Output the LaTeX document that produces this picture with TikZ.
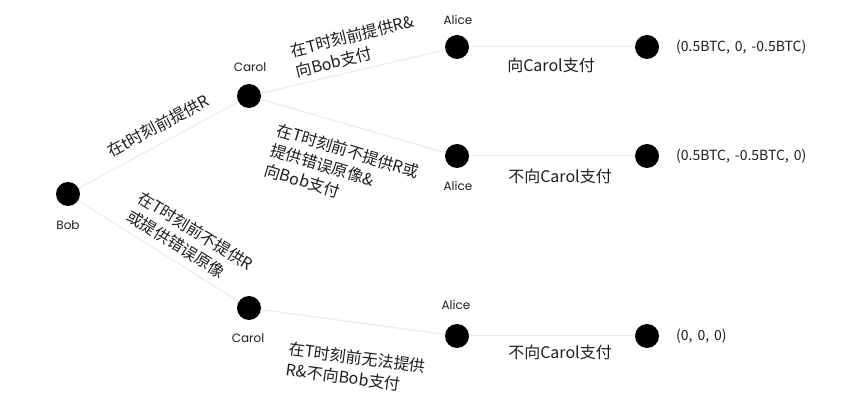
\documentclass[tikz,border=0pt]{standalone}
\usepackage{fontspec}
\setmainfont{Noto Sans CJK SC}
\newfontfamily\namefont{Poppins}
\usepackage{xcolor}
\usepackage{tikz}
\definecolor{bg}{HTML}{FFFFFF}
\definecolor{edge}{HTML}{EBEBEB}
\definecolor{ink}{HTML}{000000}
\definecolor{text}{HTML}{1E1E1E}
\newcommand{\gap}{,\hspace{0.35em}}
\tikzset{
  link/.style={draw=edge, line width=1pt, line cap=round},
  dot/.style={circle, fill=ink, minimum size=24pt, inner sep=0pt},
  who/.style={text=text, font=\namefont\fontsize{12}{14}\selectfont, inner sep=0pt},
  act/.style={text=text, font=\fontsize{16}{21}\selectfont, align=left, inner sep=0pt},
  pay/.style={text=text, font=\fontsize{14}{16}\selectfont, inner sep=0pt},
}

\begin{document}
\begin{tikzpicture}[x=1pt, y=-1pt]
  \fill[bg] (0,0) rectangle (862,419);

  \node[dot] (bob) at (68,194) {};
  \node[dot] (carolA) at (249,96) {};
  \node[dot] (carolB) at (249,308) {};
  \node[dot] (aliceA) at (457,47) {};
  \node[dot] (aliceB) at (457,156) {};
  \node[dot] (aliceC) at (457,336) {};
  \node[dot] (endA) at (647,47) {};
  \node[dot] (endB) at (647,156) {};
  \node[dot] (endC) at (647,336) {};

  \draw[link] (bob) -- (carolA);
  \draw[link] (bob) -- (carolB);
  \draw[link] (carolA) -- (aliceA);
  \draw[link] (carolA) -- (aliceB);
  \draw[link] (carolB) -- (aliceC);
  \draw[link] (aliceA) -- (endA);
  \draw[link] (aliceB) -- (endB);
  \draw[link] (aliceC) -- (endC);

  \node[who] (bobname) at (68,225) {Bob};
  \node[who] (carolAname) at (250,67) {Carol};
  \node[who] (carolBname) at (248,338) {Carol};
  \node[who] (aliceAname) at (458,20) {Alice};
  \node[who] (aliceBname) at (458,186) {Alice};
  \node[who] (aliceCname) at (456,305) {Alice};

  \node[act, rotate=28] (giveR) at (158,126) {在t时刻前提供R};
  \node[act, rotate=-32] (noR) at (190,240) {在T时刻前不提供R\\或提供错误原像};
  \node[act, rotate=14] (giveRpay) at (355,46) {在T时刻前提供R\&\\向Bob支付};
  \node[act, rotate=-17] (noRpay) at (342,171) {在T时刻前不提供R或\\提供错误原像\&\\向Bob支付};
  \node[act, rotate=-7.5] (cantR) at (356,368) {在T时刻前无法提供\\R\&不向Bob支付};

  \node[act] (payA) at (551,65) {向Carol支付};
  \node[act] (payB) at (560,176) {不向Carol支付};
  \node[act] (payC) at (560,352) {不向Carol支付};

  \node[pay, anchor=west] (gainA) at (676,47) {(0.5BTC\gap 0\gap -0.5BTC)};
  \node[pay, anchor=west] (gainB) at (676,156) {(0.5BTC\gap -0.5BTC\gap 0)};
  \node[pay, anchor=west] (gainC) at (676,336) {(0\gap 0\gap 0)};
\end{tikzpicture}
\end{document}
